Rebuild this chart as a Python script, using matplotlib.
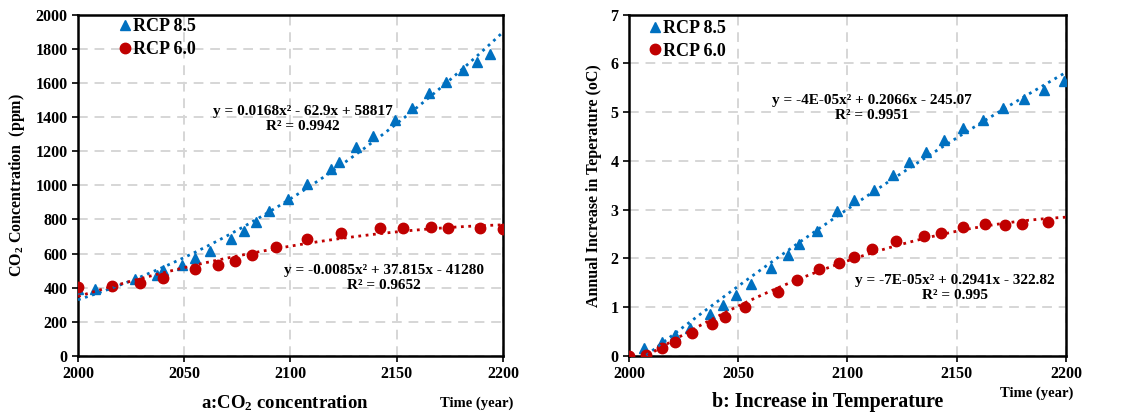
import numpy as np
import matplotlib.pyplot as plt

# CO2 concentration (ppm)
co2_yr_85 = [2000, 2008, 2027, 2037, 2040, 2049, 2055, 2062, 2072, 2078, 2084, 2090, 2099,
             2108, 2119, 2123, 2131, 2139, 2149, 2157, 2165, 2173, 2181, 2188, 2194]
co2_85 = [395, 390, 449, 473, 504, 533, 572, 617, 684, 732, 785, 848, 920,
          1006, 1096, 1137, 1227, 1289, 1383, 1451, 1539, 1605, 1676, 1721, 1770]
co2_yr_60 = [2000, 2016, 2029, 2040, 2055, 2066, 2074, 2082, 2093, 2108, 2124, 2142, 2153,
             2166, 2174, 2189, 2200]
co2_60 = [402, 412, 430, 459, 508, 533, 557, 594, 641, 686, 721, 748, 750,
          754, 748, 748, 742]

# temperature increase (oC)
tmp_yr_85 = [2000, 2007, 2015, 2021, 2028, 2037, 2043, 2049, 2056, 2065, 2073, 2078, 2086,
             2095, 2103, 2112, 2121, 2128, 2136, 2144, 2153, 2162, 2171, 2181, 2190, 2199]
tmp_85 = [0.0, 0.16, 0.29, 0.43, 0.57, 0.87, 1.05, 1.26, 1.48, 1.81, 2.08, 2.30, 2.56,
          2.97, 3.19, 3.40, 3.71, 3.97, 4.19, 4.42, 4.67, 4.84, 5.08, 5.28, 5.45, 5.63]
tmp_yr_60 = [2000, 2008, 2015, 2021, 2029, 2038, 2044, 2053, 2068, 2077, 2087, 2096, 2103,
             2111, 2122, 2135, 2143, 2153, 2163, 2172, 2180, 2192]
tmp_60 = [0.0, 0.02, 0.17, 0.29, 0.48, 0.66, 0.79, 1.01, 1.31, 1.55, 1.78, 1.90, 2.02,
          2.19, 2.35, 2.47, 2.52, 2.64, 2.71, 2.69, 2.71, 2.74]

eq_co2_85 = "y = 0.0168x² - 62.9x + 58817\nR² = 0.9942"
eq_co2_60 = "y = -0.0085x² + 37.815x - 41280\nR² = 0.9652"
eq_tmp_85 = "y = -4E-05x² + 0.2066x - 245.07\nR² = 0.9951"
eq_tmp_60 = "y = -7E-05x² + 0.2941x - 322.82\nR² = 0.995"

BLUE = "#0070C0"
RED = "#C00000"

plt.rcParams["font.family"] = ["Liberation Serif", "DejaVu Serif"]
plt.rcParams["font.weight"] = "bold"
plt.rcParams["mathtext.fontset"] = "custom"
plt.rcParams["mathtext.rm"] = "Liberation Serif:bold"
plt.rcParams["mathtext.bf"] = "Liberation Serif:bold"
plt.rcParams["mathtext.it"] = "Liberation Serif:bold:italic"

fig = plt.figure(figsize=(11.21, 4.17), dpi=100)
ax1 = fig.add_axes([0.0696, 0.1463, 0.379, 0.8185])
ax2 = fig.add_axes([0.5611, 0.1463, 0.3898, 0.8185])


def panel(ax, x85, y85, x60, y60, ymax, ystep):
    xs = np.linspace(2000, 2200, 300)
    ax.plot(x85, y85, "^", color=BLUE, ms=7.5, label="RCP 8.5", zorder=3)
    ax.plot(x60, y60, "o", color=RED, ms=7.5, label="RCP 6.0", zorder=3)
    # quadratic trend lines
    for x, y, c in ((x85, y85, BLUE), (x60, y60, RED)):
        p = np.polyfit(np.array(x) - 2000, y, 2)
        ax.plot(xs, np.polyval(p, xs - 2000), ":", color=c, lw=2, zorder=4)
    ax.set_xlim(2000, 2200)
    ax.set_ylim(0, ymax)
    ax.set_xticks(np.arange(2000, 2201, 50))
    ax.set_yticks(np.arange(0, ymax + ystep / 2, ystep))
    ax.grid(True, ls=(0, (5, 3.5)), color="#d6d6d6", lw=1.4)
    ax.set_axisbelow(True)
    for s in ax.spines.values():
        s.set_linewidth(1.8)
        s.set_color("black")
    ax.tick_params(labelsize=11.5, length=4, width=1.2, direction="out")
    for lb in ax.get_xticklabels() + ax.get_yticklabels():
        lb.set_fontweight("bold")


panel(ax1, co2_yr_85, co2_85, co2_yr_60, co2_60, 2000, 200)
panel(ax2, tmp_yr_85, tmp_85, tmp_yr_60, tmp_60, 7, 1)

leg_kw = dict(frameon=False, loc="upper left", handlelength=0.7, handletextpad=0.1,
              labelspacing=0.3, borderaxespad=0, prop={"size": 13, "weight": "bold"})
ax1.legend(bbox_to_anchor=(0.078, 1.01), **leg_kw)
ax2.legend(bbox_to_anchor=(0.028, 1.005), **leg_kw)

eq_kw = dict(ha="center", va="center", multialignment="center", fontsize=11,
             fontweight="bold", linespacing=1.2)
ax1.text(2106, 1390, eq_co2_85, **eq_kw)
ax1.text(2144, 457, eq_co2_60, **eq_kw)
ax2.text(2111, 5.08, eq_tmp_85, **eq_kw)
ax2.text(2149, 1.4, eq_tmp_60, **eq_kw)

ax1.set_ylabel("CO$_\\mathrm{2}$ Concentration  (ppm)", fontsize=11.5, fontweight="bold", labelpad=6)
ax2.set_ylabel("Annual Increase in Teperature (oC)", fontsize=11.5, fontweight="bold", labelpad=6)

fig.text(285 / 1121, 1 - 403 / 417, "a:CO$_\\mathrm{2}$ concentration", ha="center", va="center",
         fontsize=13.5, fontweight="bold")
fig.text(513 / 1121, 1 - 403 / 417, "Time (year)", ha="right", va="center",
         fontsize=10.5, fontweight="bold")
fig.text(828 / 1121, 1 - 402 / 417, "b: Increase in Temperature", ha="center", va="center",
         fontsize=14.4, fontweight="bold")
fig.text(1073 / 1121, 1 - 393 / 417, "Time (year)", ha="right", va="center",
         fontsize=10.5, fontweight="bold")

fig.savefig("out.png", dpi=100)
